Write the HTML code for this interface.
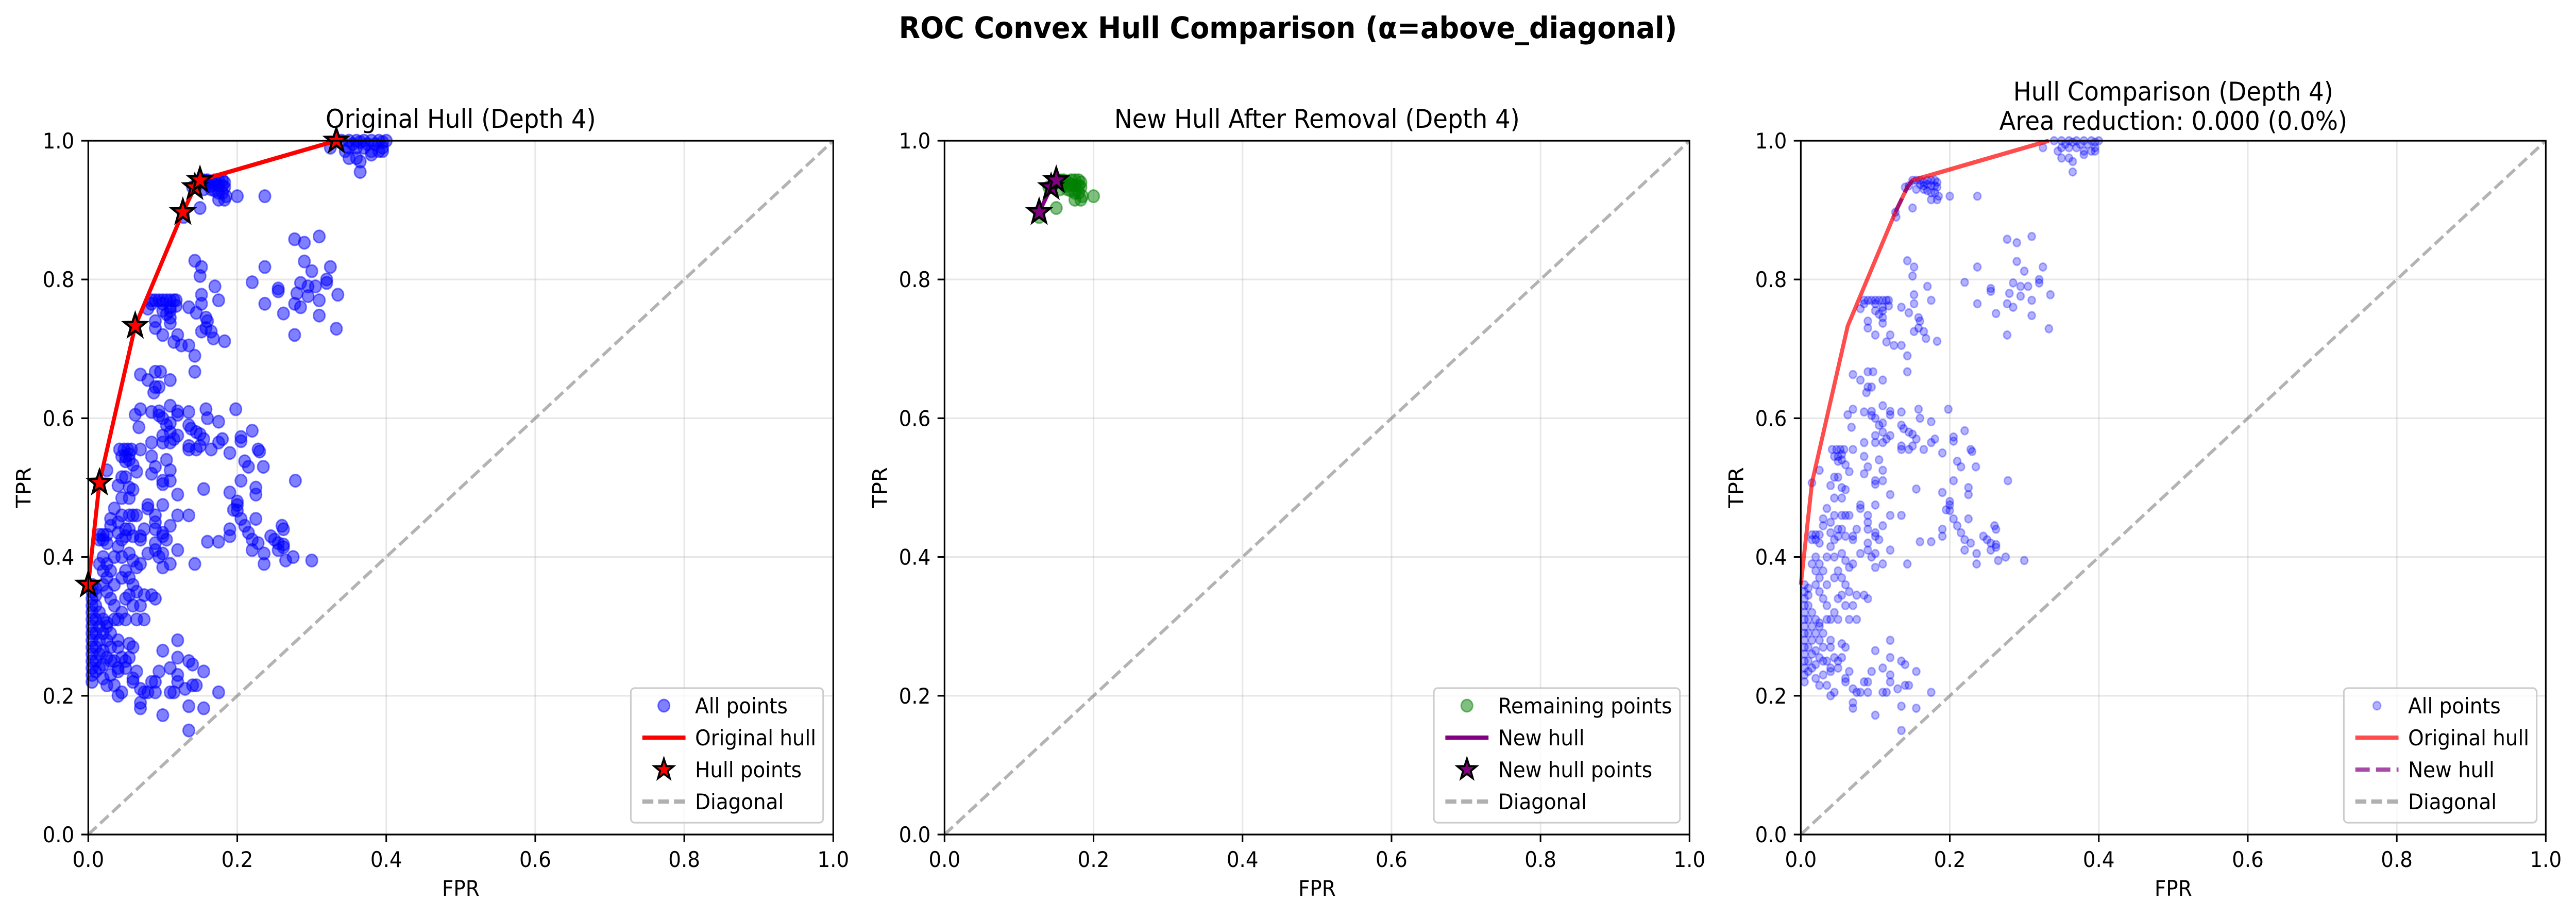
<!DOCTYPE html>
<html><head><meta charset="utf-8">
<style>
html,body{margin:0;padding:0;background:#fff;width:100%;height:100%;overflow:hidden;}
svg{display:block;width:100vw;height:100vh;font-family:"DejaVu Sans","Liberation Sans",sans-serif;}
</style></head>
<body>
<svg id="fig" viewBox="0 0 5370 1779" preserveAspectRatio="none" xmlns="http://www.w3.org/2000/svg">
<rect width="5370" height="1779" fill="#fff"/>
<text x="2685" y="74" text-anchor="middle" font-size="58" font-weight="bold">ROC Convex Hull Comparison (α=above_diagonal)</text>
</svg>
<script>
const allPoints = [
[0.07,0.663],[0.08,0.655],[0.09,0.667],[0.097,0.667],[0.09,0.645],[0.095,0.645],[0.088,0.637],[0.11,0.655],
[0.063,0.605],[0.07,0.613],[0.085,0.609],[0.095,0.61],[0.095,0.604],[0.1,0.6],[0.11,0.618],[0.12,0.61],[0.12,0.605],[0.11,0.593],[0.105,0.59],[0.135,0.609],[0.135,0.59],[0.138,0.585],[0.145,0.58],[0.15,0.577],[0.155,0.57],[0.158,0.613],[0.16,0.6],[0.175,0.595],[0.198,0.613],
[0.068,0.587],[0.085,0.565],[0.1,0.575],[0.1,0.565],[0.11,0.58],[0.11,0.565],[0.115,0.57],[0.12,0.575],[0.135,0.56],[0.135,0.555],[0.145,0.555],[0.15,0.56],[0.165,0.555],[0.175,0.565],[0.18,0.57],[0.19,0.55],[0.205,0.567],[0.205,0.573],[0.22,0.582],[0.228,0.555],[0.23,0.552],[0.21,0.538],[0.215,0.53],[0.235,0.53],[0.278,0.51],
[0.07,0.555],[0.085,0.545],[0.09,0.53],[0.1,0.51],[0.1,0.505],[0.11,0.525],[0.11,0.51],[0.12,0.49],[0.105,0.54],[0.085,0.52],[0.155,0.498],[0.19,0.493],[0.205,0.51],[0.2,0.48],[0.2,0.475],[0.195,0.468],[0.205,0.455],[0.21,0.445],[0.215,0.435],[0.225,0.455],[0.225,0.49],[0.225,0.5],[0.2,0.467],
[0.08,0.475],[0.08,0.47],[0.09,0.46],[0.1,0.475],[0.12,0.46],[0.135,0.46],[0.09,0.45],[0.09,0.44],[0.1,0.435],[0.1,0.43],[0.11,0.445],[0.105,0.425],[0.09,0.42],[0.1,0.405],[0.095,0.4],[0.09,0.41],[0.08,0.405],[0.12,0.41],[0.11,0.39],[0.1,0.385],[0.143,0.39],[0.16,0.422],[0.175,0.422],[0.19,0.43],[0.19,0.44],[0.22,0.41],[0.228,0.42],[0.236,0.405],[0.236,0.39],[0.245,0.43],[0.25,0.425],[0.255,0.42],[0.26,0.445],[0.262,0.44],[0.262,0.418],[0.262,0.414],[0.265,0.395],[0.255,0.41],[0.275,0.4],[0.3,0.395],[0.22,0.425],
[0.042,0.555],[0.048,0.555],[0.053,0.555],[0.058,0.555],[0.045,0.545],[0.05,0.545],[0.055,0.548],[0.05,0.538],[0.055,0.54],
[0.06,0.533],[0.065,0.523],[0.055,0.5],[0.06,0.497],[0.04,0.503],[0.045,0.515],[0.05,0.515],[0.025,0.525],[0.015,0.507],[0.055,0.485],[0.045,0.485],[0.035,0.47],[0.045,0.46],[0.055,0.46],[0.06,0.46],[0.065,0.46],[0.03,0.455],[0.03,0.445],[0.04,0.45],[0.04,0.435],[0.05,0.44],[0.055,0.44],[0.06,0.43],[0.07,0.43],[0.07,0.425],[0.075,0.44],[0.045,0.425],[0.05,0.43],[0.04,0.415],[0.035,0.4],[0.045,0.4],[0.055,0.405],[0.06,0.395],[0.065,0.385],[0.07,0.39],[0.05,0.38],[0.045,0.37],[0.055,0.37],[0.06,0.36],[0.065,0.35],[0.075,0.345],[0.085,0.345],[0.09,0.34],[0.055,0.345],[0.05,0.34],[0.06,0.33],[0.07,0.33],[0.075,0.31],[0.065,0.31],[0.04,0.31],[0.05,0.31],[0.045,0.32],[0.035,0.33],[0.03,0.34],[0.025,0.35],[0.02,0.36],[0.025,0.37],[0.02,0.38],[0.015,0.39],[0.02,0.4],[0.025,0.39],[0.03,0.38],[0.035,0.36],
[0.015,0.432],[0.02,0.432],[0.025,0.432],[0.02,0.425],[0.025,0.42],[0.015,0.425],
[0.005,0.36],[0.005,0.35],[0.005,0.34],[0.005,0.33],[0.005,0.32],[0.005,0.31],[0.005,0.3],[0.005,0.29],[0.005,0.28],[0.005,0.27],[0.005,0.26],[0.005,0.25],[0.005,0.24],[0.005,0.23],[0.005,0.22],[0.01,0.355],[0.01,0.345],[0.01,0.33],[0.01,0.31],[0.01,0.29],[0.01,0.27],[0.01,0.25],[0.01,0.235],[0.015,0.32],[0.015,0.3],[0.015,0.28],[0.015,0.26],[0.015,0.24],[0.02,0.31],[0.02,0.29],[0.02,0.265],[0.02,0.245],[0.02,0.225],[0.025,0.3],[0.025,0.305],[0.025,0.28],[0.025,0.255],[0.025,0.215],[0.03,0.29],[0.03,0.27],[0.03,0.25],[0.03,0.23],[0.035,0.31],[0.035,0.25],[0.035,0.215],[0.04,0.28],[0.04,0.27],[0.04,0.24],[0.04,0.2],[0.045,0.205],[0.045,0.255],[0.05,0.25],[0.05,0.24],[0.055,0.255],[0.055,0.275],[0.06,0.27],[0.06,0.22],[0.06,0.225],[0.065,0.235],[0.07,0.21],[0.07,0.19],[0.07,0.182],[0.075,0.205],[0.08,0.205],[0.085,0.22],[0.09,0.205],[0.095,0.235],[0.1,0.265],[0.1,0.172],[0.11,0.24],[0.11,0.205],[0.115,0.205],[0.12,0.28],[0.12,0.255],[0.12,0.23],[0.12,0.22],[0.13,0.21],[0.135,0.25],[0.135,0.185],[0.135,0.15],[0.14,0.245],[0.14,0.215],[0.145,0.215],[0.155,0.235],[0.155,0.182],[0.175,0.205],[0.09,0.22],[0.04,0.235],
[0.143,0.827],[0.152,0.818],[0.15,0.805],[0.17,0.79],[0.152,0.778],[0.175,0.77],[0.135,0.76],[0.145,0.752],[0.152,0.765],[0.152,0.725],[0.158,0.745],[0.16,0.74],[0.158,0.73],[0.165,0.725],[0.168,0.715],[0.183,0.711],[0.12,0.72],[0.115,0.71],[0.125,0.705],[0.135,0.705],[0.143,0.69],[0.143,0.667],[0.1,0.72],[0.09,0.74],[0.09,0.73],[0.105,0.75],[0.11,0.745],[0.11,0.737],
[0.085,0.77],[0.09,0.77],[0.095,0.77],[0.1,0.77],[0.105,0.77],[0.11,0.77],[0.115,0.77],[0.118,0.77],[0.085,0.765],[0.1,0.765],[0.11,0.76],[0.118,0.762],[0.1,0.755],[0.11,0.755],[0.08,0.758],
[0.277,0.858],[0.29,0.853],[0.31,0.862],[0.29,0.826],[0.3,0.812],[0.325,0.818],[0.237,0.818],[0.22,0.796],[0.255,0.787],[0.255,0.783],[0.28,0.78],[0.285,0.795],[0.295,0.79],[0.305,0.79],[0.32,0.8],[0.32,0.795],[0.335,0.778],[0.237,0.765],[0.277,0.765],[0.285,0.76],[0.295,0.776],[0.31,0.77],[0.31,0.748],[0.262,0.751],[0.277,0.72],[0.333,0.729],
[0.35,1.0],[0.355,0.995],[0.36,1.0],[0.365,0.998],[0.37,1.0],[0.375,0.995],[0.38,1.0],[0.385,0.995],[0.39,1.0],[0.395,0.998],[0.4,1.0],[0.395,0.99],[0.39,0.985],[0.38,0.985],[0.37,0.99],[0.36,0.99],[0.35,0.99],[0.345,0.985],[0.325,0.99],[0.36,0.975],[0.35,0.975],[0.365,0.97],[0.365,0.955],[0.38,0.98],[0.395,0.985],[0.34,1.0],
[0.15,0.943],[0.155,0.943],[0.16,0.943],[0.165,0.94],[0.17,0.943],[0.175,0.943],[0.18,0.943],[0.183,0.94],[0.16,0.937],[0.17,0.937],[0.175,0.935],[0.18,0.935],[0.183,0.933],[0.14,0.933],[0.145,0.935],[0.155,0.93],[0.165,0.93],[0.17,0.928],[0.175,0.925],[0.18,0.925],[0.185,0.92],[0.175,0.915],[0.183,0.915],[0.2,0.92],[0.237,0.92],[0.15,0.903],[0.127,0.897],[0.128,0.89],[0.165,0.935]
];
const remainingPoints = [
[0.15,0.943],[0.155,0.943],[0.16,0.943],[0.165,0.94],[0.17,0.943],[0.175,0.943],[0.18,0.943],[0.183,0.94],[0.16,0.937],[0.17,0.937],[0.175,0.935],[0.18,0.935],[0.183,0.933],[0.14,0.933],[0.145,0.935],[0.155,0.93],[0.165,0.93],[0.17,0.928],[0.175,0.925],[0.18,0.925],[0.185,0.92],[0.175,0.915],[0.183,0.915],[0.2,0.92],[0.15,0.903],[0.127,0.897],[0.127,0.89],[0.165,0.935]
];
const hullFpr = [0, 0.015, 0.063, 0.127, 0.143, 0.15, 0.333];
const hullTpr = [0.36, 0.507, 0.733, 0.897, 0.933, 0.943, 1.0];
const newHullFpr = [0.127, 0.143, 0.15];
const newHullTpr = [0.897, 0.933, 0.943];
const tickValues = [0, 0.2, 0.4, 0.6, 0.8, 1.0];
const tickLabels = ["0.0","0.2","0.4","0.6","0.8","1.0"];

const NS = "http://www.w3.org/2000/svg";
const svg = document.getElementById('fig');
function mk(tag, attrs, parent){ const e=document.createElementNS(NS,tag); for(const k in attrs) e.setAttribute(k,attrs[k]); (parent||svg).appendChild(e); return e; }
const W=1553, H=1346, TOP=273;
function starPath(cx,cy,R){ let d=''; const r=R*0.4; for(let i=0;i<10;i++){ const a=-Math.PI/2+i*Math.PI/5; const rr=i%2?r:R; d+=(i?'L':'M')+(cx+rr*Math.cos(a)).toFixed(1)+','+(cy+rr*Math.sin(a)).toFixed(1);} return d+'Z'; }

function panel(left, id){
  const g = mk('g',{});
  
  
  const sx = v => left + v*W, sy = v => TOP + H - v*H;
  tickValues.forEach((t,i)=>{
    const gl = mk('line',{x1:sx(t),x2:sx(t),y1:TOP,y2:TOP+H,stroke:'#b0b0b0','stroke-opacity':0.3,'stroke-width':3.3},g);
    
    
    const gh = mk('line',{x1:left,x2:left+W,y1:sy(t),y2:sy(t),stroke:'#b0b0b0','stroke-opacity':0.3,'stroke-width':3.3},g);
    
    
  });
  return {g, sx, sy, left};
}
function finish(P, title1, title2){
  const {g,sx,sy,left}=P;
  const dg = mk('line',{x1:sx(0),y1:sy(0),x2:sx(1),y2:sy(1),stroke:'#808080','stroke-opacity':0.6,'stroke-width':6.25,'stroke-dasharray':'23,10'},g);
  
  
  const fr = mk('rect',{x:left,y:TOP,width:W,height:H,fill:'none',stroke:'#000','stroke-width':3.3},g);
  
  
  tickValues.forEach((t,i)=>{
    mk('line',{x1:sx(t),x2:sx(t),y1:TOP+H,y2:TOP+H+14.6,stroke:'#000','stroke-width':3.3},g);
    mk('line',{x1:left,x2:left-14.6,y1:sy(t),y2:sy(t),stroke:'#000','stroke-width':3.3},g);
    const xl = mk('text',{x:sx(t),y:TOP+H+63,'text-anchor':'middle','font-size':41.7},g);
    xl.textContent = tickLabels[i];
    
    
    const yl = mk('text',{x:left-29,y:sy(t)+15,'text-anchor':'end','font-size':41.7},g);
    yl.textContent = tickLabels[i];
    
    
  });
  const xt = mk('text',{x:left+W/2,y:1738,'text-anchor':'middle','font-size':41.7},g);
  xt.textContent='FPR';
  
  
  const yt = mk('text',{x:0,y:0,'text-anchor':'middle','font-size':41.7,transform:`translate(${left-120},${TOP+H/2}) rotate(-90)`},g);
  yt.textContent='TPR';
  
  
  const t1 = mk('text',{x:left+W/2,y:title2?195:248,'text-anchor':'middle','font-size':50},g);
  t1.textContent=title1;
  
  
  if(title2){
    const t2 = mk('text',{x:left+W/2,y:252,'text-anchor':'middle','font-size':50},g);
    t2.textContent=title2;
    
    
  }
}
function legend(P, lx, rx, entries){
  const {g}=P;
  const lg = mk('g',{},g);
  
  
  mk('rect',{x:lx,y:1335,width:rx-lx,height:261,rx:8,fill:'#fff','fill-opacity':0.8,stroke:'#cccccc','stroke-width':3.3},lg);
  const ys=[1369,1431,1493,1555];
  entries.forEach((e,i)=>{
    const y=ys[i], hx=lx+24, cx=hx+45;
    if(e.type==='dot'){ mk('circle',{cx:cx,cy:y,r:e.r,fill:e.c,'fill-opacity':e.a,stroke:e.c,'stroke-opacity':e.a,'stroke-width':3},lg); }
    else if(e.type==='line'){ mk('line',{x1:hx,x2:hx+90,y1:y,y2:y,stroke:e.c,'stroke-width':8.3,'stroke-opacity':e.a||1,'stroke-dasharray':e.dash||'none'},lg); }
    else if(e.type==='star'){ mk('path',{d:starPath(cx,y,21),fill:e.c,stroke:'#000','stroke-width':4},lg); }
    const t = mk('text',{x:lx+134,y:y+15,'font-size':41.7},lg);
    t.textContent=e.label;
    
    
  });
}
function dots(P, pts, r, color, alpha, name){
  pts.forEach(p=>{
    const c = mk('circle',{cx:P.sx(p[0]),cy:P.sy(p[1]),r:r,fill:color,'fill-opacity':alpha,stroke:color,'stroke-opacity':alpha,'stroke-width':3},P.g);
    
    
  });
}
function hullLine(P, fx, ty, color, alpha, dash, name){
  const d = fx.map((v,i)=>(i?'L':'M')+P.sx(v).toFixed(1)+','+P.sy(ty[i]).toFixed(1)).join('');
  const l = mk('path',{d:d,fill:'none',stroke:color,'stroke-opacity':alpha,'stroke-width':8.3,'stroke-dasharray':dash||'none','stroke-linejoin':'round'},P.g);
  
  
}
function stars(P, fx, ty, color){
  fx.forEach((v,i)=>{
    const s = mk('path',{d:starPath(P.sx(v),P.sy(ty[i]),24),fill:color,stroke:'#000','stroke-width':4.5},P.g);
    
    
  });
}
const P1 = panel(184,'original-hull-panel');
dots(P1, allPoints, 12, '#0000ff', 0.5, 'all-point');
hullLine(P1, hullFpr, hullTpr, '#ff0000', 1, null, 'original-hull-line');
stars(P1, hullFpr, hullTpr, '#ff0000');
finish(P1, 'Original Hull (Depth 4)');
legend(P1, 1315, 1716, [{type:'dot',c:'#0000ff',a:0.5,r:12,label:'All points'},{type:'line',c:'#ff0000',label:'Original hull'},{type:'star',c:'#ff0000',label:'Hull points'},{type:'line',c:'#b0b0b0',dash:'23,10',label:'Diagonal'}]);
const P2 = panel(1969,'new-hull-panel');
dots(P2, remainingPoints, 12, '#008000', 0.5, 'remaining-point');
hullLine(P2, newHullFpr, newHullTpr, '#800080', 1, null, 'new-hull-line');
stars(P2, newHullFpr, newHullTpr, '#800080');
finish(P2, 'New Hull After Removal (Depth 4)');
legend(P2, 2989, 3502, [{type:'dot',c:'#008000',a:0.5,r:12,label:'Remaining points'},{type:'line',c:'#800080',label:'New hull'},{type:'star',c:'#800080',label:'New hull points'},{type:'line',c:'#b0b0b0',dash:'23,10',label:'Diagonal'}]);
const P3 = panel(3754,'hull-comparison-panel');
dots(P3, allPoints, 7.5, '#0000ff', 0.3, 'all-point');
hullLine(P3, hullFpr, hullTpr, '#ff0000', 0.7, null, 'original-hull-line');
hullLine(P3, newHullFpr, newHullTpr, '#800080', 0.7, '30,13', 'new-hull-line');
finish(P3, 'Hull Comparison (Depth 4)', 'Area reduction: 0.000 (0.0%)');
legend(P3, 4886, 5288, [{type:'dot',c:'#0000ff',a:0.3,r:8,label:'All points'},{type:'line',c:'#ff0000',a:0.7,label:'Original hull'},{type:'line',c:'#800080',a:0.7,dash:'30,13',label:'New hull'},{type:'line',c:'#b0b0b0',dash:'23,10',label:'Diagonal'}]);
</script>
</body></html>
